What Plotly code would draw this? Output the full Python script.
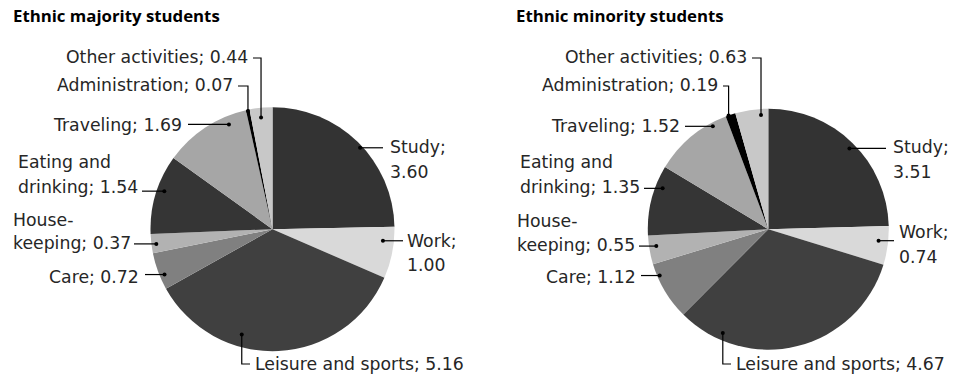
import plotly.graph_objects as go
import math

# ---- data -------------------------------------------------------------
activities = ["Study", "Work", "Leisure and sports", "Care", "House-keeping",
              "Eating and drinking", "Traveling", "Administration", "Other activities"]
majority_hours = [3.60, 1.00, 5.16, 0.72, 0.37, 1.54, 1.69, 0.07, 0.44]
minority_hours = [3.51, 0.74, 4.67, 1.12, 0.55, 1.35, 1.52, 0.19, 0.63]
titles = ["Ethnic majority students", "Ethnic minority students"]

slice_colors = ["#333333", "#d9d9d9", "#404040", "#808080", "#b2b2b2",
                "#353535", "#a6a6a6", "#000000", "#c8c8c8"]

# label text pieces (prefix lines shown before the value)
label_head = [["Study;"], ["Work;"], ["Leisure and sports;"], ["Care;"],
              ["House-", "keeping;"], ["Eating and", "drinking;"],
              ["Traveling;"], ["Administration;"], ["Other activities;"]]

# ---- layout geometry (pixels) -----------------------------------------
W, H = 957, 381
FONT = "DejaVu Sans"
TITLE_FONT = "Open Sans"
FS = 17.3
TEXT_COLOR = "#262626"

pies = [
    dict(values=majority_hours, cx=272.5, cy=229.2, R=122, title_x=11,
         # connector end on each slice: (fraction along slice, fraction of radius)
         anchor=[(0.53, 0.98), (0.29, 0.91), (0.65, 0.90), (0.36, 0.96), (0.46, 0.96),
                 (0.57, 0.94), (0.76, 0.93), (0.50, 0.99), (0.46, 0.92)],
         # label placement: (style, text x, y of last line, line gap, xanchor, connector end x)
         labels=[("h", 388, 172, 25, "left", 383),
                 ("h", 405, 265, 24, "left", 403),
                 ("down", 253, 364, 0, "left", 250),
                 ("h", 141, 277, 0, "right", 145),
                 ("h", 11, 243, 23, "left", 134),
                 ("h", 16, 187, 25, "left", 142),
                 ("h", 184, 125, 0, "right", 188),
                 ("up", 235, 85, 0, "right", 238),
                 ("up", 250, 57, 0, "right", 253)]),
    dict(values=minority_hours, cx=768.3, cy=229.2, R=120.5, title_x=514,
         anchor=[(0.51, 0.95), (0.40, 0.92), (0.82, 0.94), (0.78, 0.98), (0.60, 0.94),
                 (0.71, 0.94), (0.80, 0.97), (0.30, 1.00), (0.77, 0.95)],
         labels=[("h", 891, 172, 25, "left", 886),
                 ("h", 897, 257, 25, "left", 894),
                 ("down", 734, 364, 0, "left", 731),
                 ("h", 638, 277, 0, "right", 641),
                 ("h", 515, 245, 24, "left", 639),
                 ("h", 518, 187, 25, "left", 644),
                 ("h", 682, 126, 0, "right", 685),
                 ("up", 720, 85, 0, "right", 723),
                 ("up", 749, 57, 0, "right", 752)]),
]


def px(x):
    return x / W


def py(y):
    return 1 - y / H


fig = go.Figure()
shapes = []
annotations = []

for i, p in enumerate(pies):
    cx, cy, R = p["cx"], p["cy"], p["R"]
    vals = p["values"]
    fig.add_trace(go.Pie(
        labels=activities, values=vals, sort=False, direction="clockwise",
        rotation=0, textinfo="none", hoverinfo="label+value",
        marker=dict(colors=slice_colors, line=dict(width=0)),
        domain=dict(x=[px(cx - R), px(cx + R)], y=[py(cy + R), py(cy - R)]),
        showlegend=False,
    ))

    annotations.append(dict(
        x=px(p["title_x"]), y=py(15), xref="paper", yref="paper",
        xanchor="left", yanchor="middle", showarrow=False,
        text="<b>" + titles[i] + "</b>",
        font=dict(family=TITLE_FONT, size=16.8, color="#000000")))

    total = sum(vals)
    start = 0.0
    for k, v in enumerate(vals):
        span = v / total * 360.0
        frac, rf = p["anchor"][k]
        ang = math.radians(start + frac * span)
        dx = cx + rf * R * math.sin(ang)
        dy = cy - rf * R * math.cos(ang)
        start += span

        style, tx, ty, gap, xa, ex = p["labels"][k]
        if k in (0, 1):
            lines = [label_head[k][0], f"{v:.2f}"]
        else:
            lines = label_head[k][:-1] + [label_head[k][-1] + " " + f"{v:.2f}"]

        # connector from the slice to the label
        if style == "h":
            path = f"M {px(dx)},{py(dy)} L {px(ex)},{py(dy)}"
        else:
            ly = ty + (1 if style == "up" else 0)
            path = (f"M {px(dx)},{py(dy)} L {px(dx)},{py(ly)} L {px(ex)},{py(ly)}")
        shapes.append(dict(type="path", path=path, xref="paper", yref="paper",
                           line=dict(color="#000000", width=1.2), layer="above"))
        shapes.append(dict(type="circle", xref="paper", yref="paper",
                           xsizemode="pixel", ysizemode="pixel",
                           xanchor=px(dx), yanchor=py(dy),
                           x0=-2, x1=2, y0=-2, y1=2,
                           fillcolor="#000000", line=dict(width=0), layer="above"))

        # label lines: last line at ty, earlier lines stacked above
        n = len(lines)
        for j, t in enumerate(lines):
            yy = ty - (n - 1 - j) * gap
            annotations.append(dict(
                x=px(tx), y=py(yy), xref="paper", yref="paper",
                xanchor=xa, yanchor="middle", showarrow=False, text=t,
                font=dict(family=FONT, size=FS, color=TEXT_COLOR)))

fig.update_layout(
    width=W, height=H, margin=dict(l=0, r=0, t=0, b=0),
    paper_bgcolor="#ffffff", plot_bgcolor="#ffffff",
    shapes=shapes, annotations=annotations,
)

fig.write_html("out.html")
